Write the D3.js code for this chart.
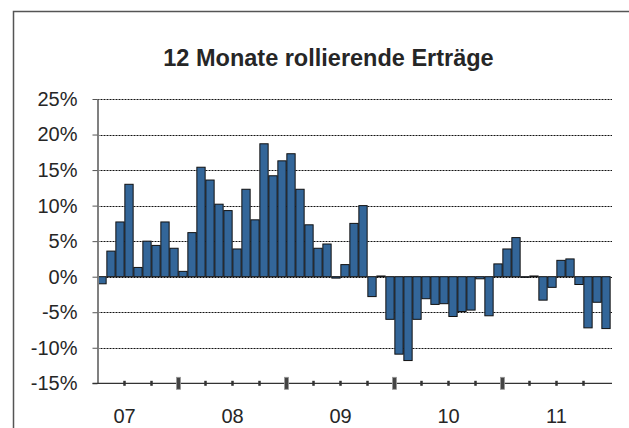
<!DOCTYPE html>
<html>
<head>
<meta charset="utf-8">
<script src="https://cdn.jsdelivr.net/npm/d3@7"></script>
<style>
  body { margin: 0; background: #fff; }
  text { font-family: Arial, "Liberation Sans", sans-serif; fill: #262626; }
</style>
</head>
<body>
<div id="chart"></div>
<script>
// Data: months Apr 2007 - Dec 2011, rolling 12 month returns in %
var months = [
  "2007-04", "2007-05", "2007-06", "2007-07", "2007-08", "2007-09", "2007-10", "2007-11", "2007-12",
  "2008-01", "2008-02", "2008-03", "2008-04", "2008-05", "2008-06", "2008-07", "2008-08", "2008-09", "2008-10", "2008-11", "2008-12",
  "2009-01", "2009-02", "2009-03", "2009-04", "2009-05", "2009-06", "2009-07", "2009-08", "2009-09", "2009-10", "2009-11", "2009-12",
  "2010-01", "2010-02", "2010-03", "2010-04", "2010-05", "2010-06", "2010-07", "2010-08", "2010-09", "2010-10", "2010-11", "2010-12",
  "2011-01", "2011-02", "2011-03", "2011-04", "2011-05", "2011-06", "2011-07", "2011-08", "2011-09", "2011-10", "2011-11", "2011-12"
];
var returns = [
  -1.0, 3.6, 7.7, 13.0, 1.3, 5.0, 4.4, 7.7, 4.0,
  0.75, 6.2, 15.4, 13.6, 10.2, 9.3, 3.9, 12.3, 8.0, 18.7, 14.2, 16.3,
  17.3, 12.3, 7.3, 4.0, 4.6, -0.2, 1.7, 7.5, 10.0, -2.8, 0.1, -6.0,
  -10.9, -11.8, -6.0, -3.1, -3.9, -3.8, -5.6, -4.9, -4.7, -0.3, -5.5, 1.8,
  3.9, 5.5, 0.0, 0.1, -3.3, -1.5, 2.3, 2.5, -1.1, -7.2, -3.6, -7.3
];
var yTicks = [-15, -10, -5, 0, 5, 10, 15, 20, 25];
var quarterTicks = ["2007-07", "2007-10", "2008-01", "2008-04", "2008-07", "2008-10",
  "2009-01", "2009-04", "2009-07", "2009-10", "2010-01", "2010-04", "2010-07", "2010-10",
  "2011-01", "2011-04", "2011-07", "2011-10"];
var yearTicks = ["2008-01", "2009-01", "2010-01", "2011-01"];
var yearLabelAt = ["2007-07", "2008-07", "2009-07", "2010-07", "2011-07"];
var yearLabels = ["07", "08", "09", "10", "11"];
var title = "12 Monate rollierende Erträge";

// Step 1: chart area
var svgWidth = 629;
var svgHeight = 428;

var margin = { top: 99, left: 97.5 };
var width = 513;
var height = 284.3;

var svg = d3.select("#chart").append("svg")
  .attr("width", svgWidth)
  .attr("height", svgHeight);

// outer frame (only top and left edge are visible)
svg.append("path")
  .attr("d", "M13.5," + svgHeight + " V11.5 H" + svgWidth)
  .attr("fill", "none")
  .attr("stroke", "#555")
  .attr("stroke-width", 1.5);

svg.append("text")
  .attr("x", 328.5)
  .attr("y", 66)
  .attr("text-anchor", "middle")
  .attr("font-size", "23.5px")
  .attr("font-weight", "bold")
  .attr("fill", "#222")
  .text(title);

var chartGroup = svg.append("g")
  .attr("transform", `translate(${margin.left}, ${margin.top})`);

// Step 2: scales
var xBand = d3.scaleBand()
  .domain(months)
  .range([0, width])
  .paddingInner(0.08)
  .paddingOuter(0.04);

// position of the start of a month slot
var xEdge = function(m) {
  return months.indexOf(m) * width / months.length;
};

var yScale = d3.scaleLinear()
  .domain([-15, 25])
  .range([height, 0]);

// Step 3: dotted gridlines
chartGroup.selectAll(".grid")
  .data(yTicks.filter(d => d > -15))
  .enter()
  .append("line")
  .attr("class", "grid")
  .attr("x1", 0)
  .attr("x2", width + 1.5)
  .attr("y1", d => Math.round(yScale(d)) + 0.5)
  .attr("y2", d => Math.round(yScale(d)) + 0.5)
  .attr("stroke", "#111")
  .attr("stroke-width", 1)
  .attr("stroke-dasharray", "2,1");

// Step 4: bars
chartGroup.selectAll(".bar")
  .data(returns)
  .enter()
  .append("rect")
  .attr("class", "bar")
  .attr("x", (d, i) => xBand(months[i]))
  .attr("width", xBand.bandwidth())
  .attr("y", d => yScale(Math.max(0, d)))
  .attr("height", d => Math.max(0.6, Math.abs(yScale(d) - yScale(0))))
  .attr("fill", "#336699")
  .attr("stroke", "#111")
  .attr("stroke-width", 1);

// Step 5: y axis
var yAxis = d3.axisLeft(yScale)
  .tickValues(yTicks)
  .tickSize(5)
  .tickSizeOuter(0)
  .tickPadding(15)
  .tickFormat(d => d + "%");

var yAxisG = chartGroup.append("g").call(yAxis);
yAxisG.select(".domain").attr("stroke", "#808080").attr("stroke-width", 2);
yAxisG.selectAll(".tick line").attr("stroke", "#555");
yAxisG.selectAll("text")
  .attr("font-size", "20px")
  .attr("font-family", "Arial, 'Liberation Sans', sans-serif")
  .attr("fill", "#262626");

// Step 6: x axis
var xAxisG = chartGroup.append("g")
  .attr("transform", `translate(0, ${height})`);

xAxisG.append("line")
  .attr("x1", -5)
  .attr("x2", width + 1.5)
  .attr("y1", 0)
  .attr("y2", 0)
  .attr("stroke", "#333")
  .attr("stroke-width", 1.2);

xAxisG.selectAll(".qtick")
  .data(quarterTicks.filter(m => yearTicks.indexOf(m) < 0))
  .enter()
  .append("line")
  .attr("class", "qtick")
  .attr("x1", d => xEdge(d))
  .attr("x2", d => xEdge(d))
  .attr("y1", -2.5)
  .attr("y2", 2.5)
  .attr("stroke", "#333")
  .attr("stroke-width", 2.5);

xAxisG.selectAll(".ytick")
  .data(yearTicks)
  .enter()
  .append("rect")
  .attr("class", "ytick")
  .attr("x", d => xEdge(d) - 2)
  .attr("y", -6)
  .attr("width", 4)
  .attr("height", 12)
  .attr("fill", "#444")
  .attr("stroke", "#999")
  .attr("stroke-width", 0.8);

xAxisG.selectAll(".ylabel")
  .data(yearLabelAt)
  .enter()
  .append("text")
  .attr("class", "ylabel")
  .attr("x", d => xEdge(d))
  .attr("y", 39.5)
  .attr("text-anchor", "middle")
  .attr("font-size", "20px")
  .text((d, i) => yearLabels[i]);
</script>
</body>
</html>
